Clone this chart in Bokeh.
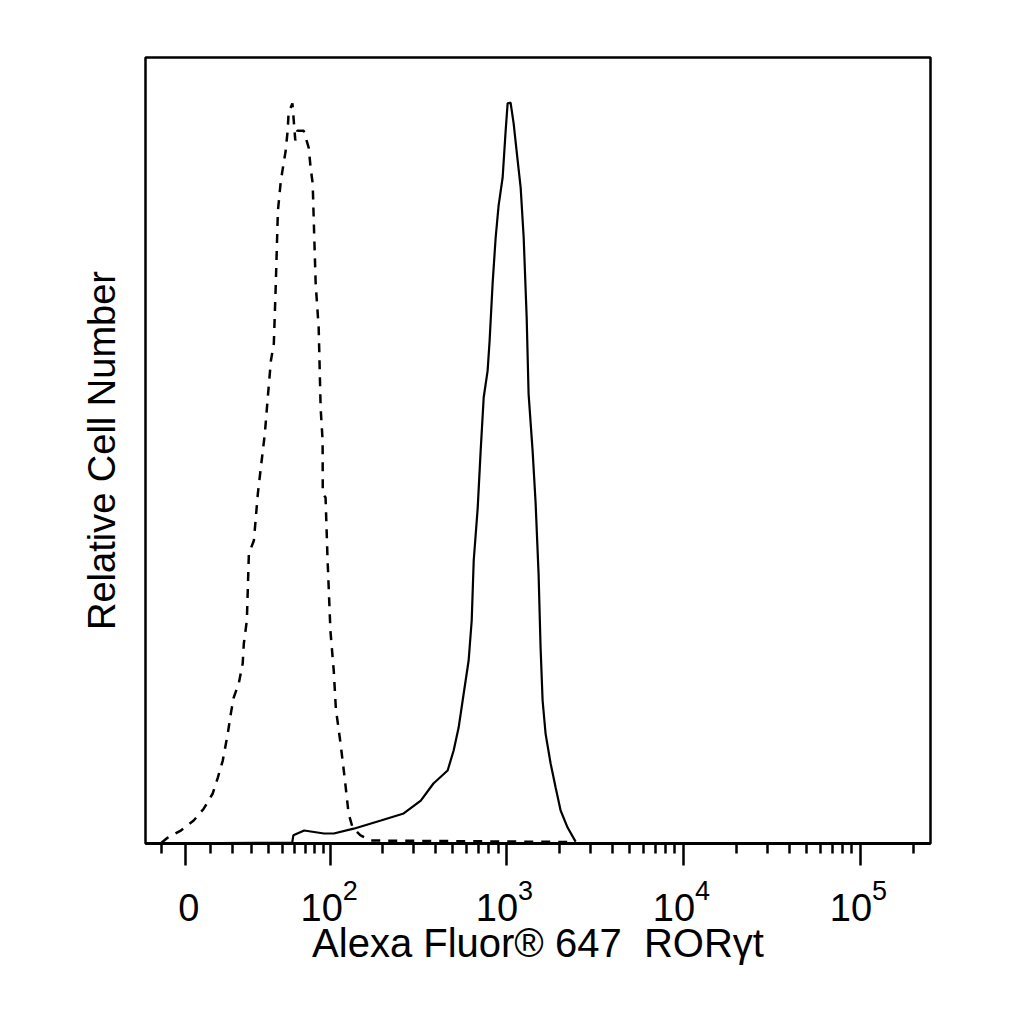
import numpy as np
from bokeh.plotting import figure
from bokeh.models import Range1d, FixedTicker, ColumnDataSource
from bokeh.layouts import column
from bokeh.core.properties import value
from bokeh.embed import file_html
from bokeh.resources import INLINE

# valores de fluorescencia (eje biexponencial)
solid_x = [-15, 58, 59, 69, 91, 104, 136, 195, 263, 329, 388, 467, 505, 539, 568,
           614, 639, 656, 691, 718, 747, 786, 807, 839, 873, 907, 956, 994, 1020, 1060,
           1103, 1162, 1209, 1257, 1307, 1340, 1412, 1468, 1526, 1566, 1608, 1672, 1785,
           1905, 2033, 2226, 2470]
solid_y = [0, 0.1, 1.1, 1.75, 1.35, 1.35, 2.0, 3.1, 4.05, 5.8, 8.1, 9.85, 12.55, 15.65, 19.3,
           24.7, 30.1, 38.2, 45.3, 53.0, 60.2, 63.8, 67.9, 75.6, 81.8, 86.1, 89.9, 96.2, 99.9, 100,
           97.2, 92.2, 88.5, 81.8, 71.0, 60.7, 53.0, 46.0, 36.4, 26.5, 19.3, 14.8, 10.8,
           7.55, 4.45, 2.15, 0.25]

# control de isotipo (linea discontinua)
dashed_x = [-10, -7.3, -2.0, 3.2, 7.3, 11.1, 13.3, 15.5, 17.8, 19.2, 20.6, 23.1, 25.1, 25.7,
            27.3, 28.4, 31.2, 33.5, 35.3, 37.8, 39.7, 41.8, 43.8, 45.2, 46.7, 48.9, 52.6, 54.2,
            55.0, 58.2, 60.7, 62.5, 68.6, 73.6, 75.6, 77.8, 78.9, 81.1, 84.6, 86.9, 89.3, 89.5,
            93.0, 95.5, 99.4, 104, 107, 114, 121, 127, 134, 149, 170, 2470]
dashed_y = [0.1, 0.8, 1.75, 3.1, 4.7, 6.75, 8.9, 11.2, 14.85, 17.5, 19.7, 21.6, 24.3, 27.0,
            30.1, 39.1, 40.9, 47.2, 50.7, 55.3, 60.2, 65.2, 67.5, 75.6, 85.4, 89.5, 93.5, 96.2,
            98.65, 99.9, 94.9, 96.2, 96.2, 93.9, 91.2, 89.1, 84.5, 75.6, 69.6, 58.8, 54.4, 47.2,
            46.7, 38.6, 28.7, 23.3, 18.2, 13.5, 8.5, 4.05, 2.15, 1.1, 0.4, 0.2]

# marcas del eje x
major_ticks = [100, 1000, 10000, 100000]
major_exp = ["2", "3", "4", "5"]
zero_tick = [0]
minor_ticks = ([-10] + list(range(10, 100, 10)) + list(range(200, 1000, 100))
               + list(range(2000, 10000, 1000)) + list(range(20000, 100000, 10000)) + [200000])

x_limits = (-17, 250000)
y_top = 106.1

C = 31.0


def disp(v):
    # transformacion tipo arcsinh (aprox. logicle)
    return np.arcsinh(np.asarray(v, dtype=float) / C) / np.log(10)


FONT = "Liberation Sans"
W = 1000
x_range = Range1d(float(disp(x_limits[0])), float(disp(x_limits[1])))

# --- figura principal ---
p = figure(width=W, height=873, output_backend="svg", toolbar_location=None,
           x_range=x_range, y_range=Range1d(0, y_top),
           min_border_left=145, min_border_right=70,
           min_border_top=57, min_border_bottom=30)

p.grid.visible = False
p.outline_line_color = "black"
p.outline_line_width = 2.5

p.line(disp(dashed_x), dashed_y, line_color="black", line_width=2.5, line_dash="9 8")
p.line(disp(solid_x), solid_y, line_color="black", line_width=2.2)

xa = p.xaxis[0]
xa.ticker = FixedTicker(ticks=[float(t) for t in disp(zero_tick + major_ticks)],
                        minor_ticks=[float(t) for t in disp(minor_ticks)])
# las etiquetas se escriben en la franja inferior
xa.major_label_text_font_size = "1px"
xa.major_label_text_alpha = 0
xa.major_label_standoff = 0
xa.axis_line_width = 3
xa.major_tick_line_width = 2.5
xa.minor_tick_line_width = 2.5
xa.major_tick_out = 22
xa.major_tick_in = 0
xa.minor_tick_out = 10
xa.minor_tick_in = 0

ya = p.yaxis[0]
ya.ticker = FixedTicker(ticks=[])
ya.major_label_text_font_size = "0px"
ya.major_label_standoff = 0
ya.major_tick_out = 0
ya.minor_tick_out = 0
ya.axis_line_color = None
ya.axis_label = "Relative Cell Number"
ya.axis_label_text_font = FONT
ya.axis_label_text_font_size = "38px"
ya.axis_label_text_font_style = "normal"
ya.axis_label_text_color = "black"
ya.axis_label_standoff = 23

# --- franja con las etiquetas de las marcas (10 con exponente) ---
s = figure(width=W, height=127, output_backend="svg", toolbar_location=None,
           x_range=x_range, y_range=Range1d(0, 1), y_axis_location=None,
           min_border_left=145, min_border_right=70,
           min_border_top=0, min_border_bottom=75)
s.grid.visible = False
s.outline_line_color = None

base_src = ColumnDataSource(dict(x=disp(major_ticks), text=["10"] * len(major_ticks)))
exp_src = ColumnDataSource(dict(x=disp(major_ticks), text=major_exp))
zero_src = ColumnDataSource(dict(x=disp(zero_tick), text=["0"]))

BASE_Y, EXP_Y = 0.346, 0.673
s.text(x="x", y=BASE_Y, text="text", source=base_src, x_offset=12,
       text_align="right", text_baseline="alphabetic",
       text_font=value(FONT), text_font_size="38px", text_color="black")
s.text(x="x", y=EXP_Y, text="text", source=exp_src, x_offset=12,
       text_align="left", text_baseline="alphabetic",
       text_font=value(FONT), text_font_size="27px", text_color="black")
s.text(x="x", y=BASE_Y, text="text", source=zero_src, x_offset=3,
       text_align="center", text_baseline="alphabetic",
       text_font=value(FONT), text_font_size="38px", text_color="black")

sa = s.xaxis[0]
sa.ticker = FixedTicker(ticks=[])
sa.axis_line_color = None
sa.major_tick_out = 0
sa.minor_tick_out = 0
sa.major_label_text_font_size = "0px"
sa.major_label_standoff = 0
sa.axis_label = "Alexa Fluor® 647\u00a0 RORγt"
sa.axis_label_text_font = FONT
sa.axis_label_text_font_size = "40px"
sa.axis_label_text_font_style = "normal"
sa.axis_label_text_color = "black"
sa.axis_label_standoff = -5

lay = column(p, s)
open("out.html", "w").write(file_html(lay, INLINE))
